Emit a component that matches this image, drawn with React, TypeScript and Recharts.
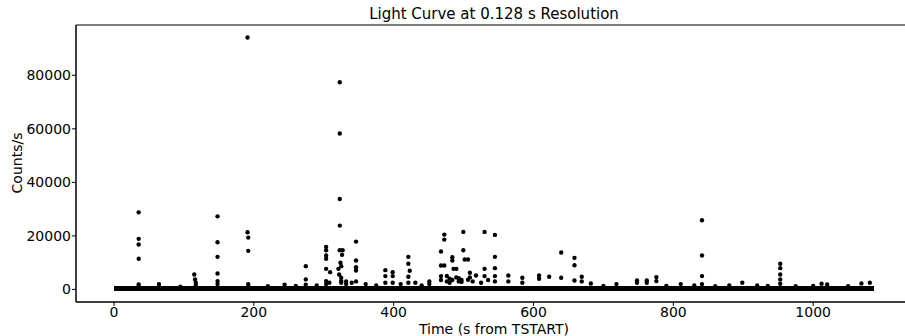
import React from 'react';
import {
  ScatterChart, Scatter, XAxis, YAxis, ZAxis, ReferenceArea, Label
} from 'recharts';

// times (s from TSTART) and count rates
const flarePoints: [number, number][] = [
  [35.3, 28800], [35.3, 18900], [35.3, 16770], [35.3, 11440], [35.3, 1900], [35.3, 1200],
  [64.3, 2000], [64.3, 1200], [95, 1000],
  [114.8, 5590], [116, 3730], [117, 2500], [117, 1500],
  [148.1, 27300], [148.1, 17620], [148.1, 12180], [148.1, 5960], [148.1, 3100], [148.1, 2000],
  [191, 94150], [191, 21350], [192, 19375], [192, 14420], [192, 2000], [192, 1300],
  [220, 1200], [244, 1800], [260, 1300],
  [274.3, 8690], [274.3, 3730], [274.3, 1800], [290, 1500],
  [303.4, 15900], [303.4, 14640], [303.4, 12670], [303.4, 11440], [303.4, 7700], [303.4, 3100], [303.4, 2000],
  [309.1, 6450], [308, 2500],
  [322.9, 77400], [322.9, 58240], [322.9, 33800], [322.9, 23850], [322.9, 14640],
  [327, 14640], [326.2, 12930], [323.9, 9950], [325, 8690], [321, 7700], [322, 5590],
  [325, 4350], [325, 3200], [325, 2500], [332, 3000], [332, 2000], [340, 2500],
  [346.2, 17880], [346.2, 10800], [346.2, 8310], [346.2, 7080], [346.2, 3000],
  [360, 2000], [375, 1500],
  [388.1, 7200], [388.1, 4970], [388.1, 2500],
  [398.6, 6450], [398.6, 4970], [398.6, 2500], [410, 2000],
  [421, 12180], [421, 9570], [421, 4720], [421, 2500], [423, 6960],
  [431, 2500], [440, 1500], [451, 3000], [451, 2000],
  [467.7, 14160], [467.7, 8940], [467.7, 4970], [467.7, 3500],
  [472.4, 20490], [472.4, 18630], [472.4, 8940],
  [476, 5000], [476, 3000], [480, 4000], [480, 2500],
  [483.9, 12040], [483.9, 10800], [483.9, 3500], [485.7, 7700],
  [489.6, 7700], [489.6, 4500], [493, 3000], [493, 4200], [497, 3500], [497, 2800],
  [499.6, 21500], [499.6, 14640], [501.5, 11180], [506.3, 11180], [506.3, 3600],
  [509, 6220], [509, 4500], [513, 3000], [517.7, 5220], [525, 2500],
  [530, 21500], [530, 7700], [530, 4970], [535, 3500],
  [544.8, 20380], [544.8, 12180], [544.8, 7940], [544.8, 4970], [544.8, 3000],
  [564, 5220], [564, 3000], [584, 4350], [584, 2500],
  [608, 5220], [608, 4000], [622.4, 4720],
  [639.6, 13790], [639.6, 4350],
  [658.6, 11810], [658.6, 9050], [658.6, 3350],
  [669, 4720], [669, 3000], [682, 2200], [700, 1300], [718.6, 2000],
  [748, 3350], [748, 2500], [762, 3350], [762, 2500],
  [775.7, 4600], [775.7, 3100], [790, 1300], [810.6, 2000], [830, 1500],
  [841, 25830], [841, 12670], [841, 4970], [841, 2000],
  [860, 1200], [880, 1500], [898.6, 2500], [920, 1500], [935, 1300],
  [952.9, 9570], [952.9, 7940], [952.9, 5590], [952.9, 3730], [952.9, 2120],
  [975, 1200], [1000, 1300], [1012, 2120], [1020, 1870], [1050, 1200],
  [1069, 2240], [1081, 2500]
];

// quiescent level: dense band of points close to zero
const baselineTimes = [0, 1087];
const baselineCounts = [300, 300];

const xTicks = [0, 200, 400, 600, 800, 1000];
const yTicks = [0, 20000, 40000, 60000, 80000];
const xDomain: [number, number] = [-54.35, 1141.35];
const yDomain: [number, number] = [-4700, 98800];

const flareData = flarePoints.map(([t, c]) => ({ t, c }));
const baselineData = baselineTimes.map((t, i) => ({ t, c: baselineCounts[i] }));

const font = 'DejaVu Sans, sans-serif';

export default function App() {
  return (
    <div style={{ position: 'absolute', left: 0, top: 0, width: 905, height: 336, overflow: 'hidden', background: '#fff', fontFamily: font }}>
      <div style={{ position: 'absolute', left: 76, width: 836, top: 6, textAlign: 'center', fontSize: 15, lineHeight: '17px', color: '#000' }}>
        Light Curve at 0.128 s Resolution
      </div>
      <ScatterChart width={916} height={336} margin={{ top: 25, right: 4, bottom: 0, left: 0 }}>
        <XAxis
          type="number" dataKey="t" domain={xDomain} ticks={xTicks} allowDataOverflow
          height={34} stroke="#000" tickSize={4} tickMargin={1}
          tick={{ fill: '#000', fontSize: 14, fontFamily: font }}
        >
          <Label value="Time (s from TSTART)" position="insideBottom" offset={2} fill="#000" fontSize={14} fontFamily={font} />
        </XAxis>
        <YAxis
          type="number" dataKey="c" domain={yDomain} ticks={yTicks} allowDataOverflow
          width={76} stroke="#000" tickSize={4} tickMargin={1}
          tick={{ fill: '#000', fontSize: 14, fontFamily: font }}
        >
          <Label
            content={() => (
              <text x={17} y={163} transform="rotate(-90 17 163)" textAnchor="middle" dominantBaseline="central"
                fill="#000" fontSize={14} fontFamily={font}>Counts/s</text>
            )}
          />
        </YAxis>
        <ZAxis type="number" range={[15, 15]} />
        <Scatter data={baselineData} fill="#000" line={{ stroke: '#000', strokeWidth: 5 }} shape={() => <g />} isAnimationActive={false} />
        <Scatter data={flareData} fill="#000" isAnimationActive={false} />
        <ReferenceArea x1={xDomain[0]} x2={xDomain[1]} y1={yDomain[0]} y2={yDomain[1]} fill="none" stroke="#000" strokeWidth={1} ifOverflow="extendDomain" />
      </ScatterChart>
    </div>
  );
}
